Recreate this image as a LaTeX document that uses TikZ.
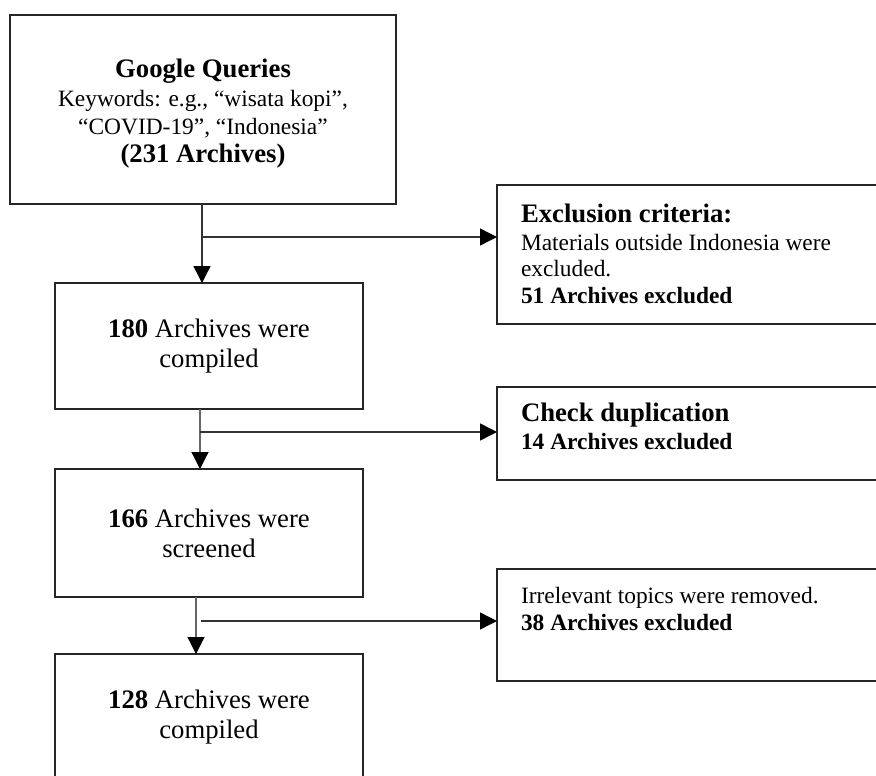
\documentclass[tikz,border=0pt]{standalone}
\usepackage{fontspec}
\setmainfont{Liberation Serif}
\usetikzlibrary{arrows.meta}
\newcommand{\headsize}{\fontsize{26.7}{30}\selectfont}
\newcommand{\bodysize}{\fontsize{23.4}{27.5}\selectfont}
\begin{document}
\begin{tikzpicture}[x=1pt,y=-1pt,
  box/.style={draw=black!85, line width=2pt, rectangle, inner sep=0pt, outer sep=0pt,
              align=center, font=\headsize},
  sidebox/.style={draw=black!85, line width=2pt, rectangle, inner sep=0pt, outer sep=0pt,
                  anchor=north west, minimum width=420pt},
  textline/.style={anchor=base west, inner sep=0pt, outer sep=0pt},
  flow/.style={draw=black!80, line width=1.4pt, -{Triangle[length=17pt,width=17pt,color=black]}},
  softflow/.style={flow, draw=black!60, line width=1.2pt}]
\useasboundingbox (0,0) rectangle (876,776);
\clip (0,0) rectangle (876,776);

% main column
\node[box, minimum width=386pt, minimum height=189pt, font=\fontsize{23.4}{28.3}\selectfont] (query) at (203,109.5)
  {\rule{0pt}{27pt}\textbf{\headsize Google Queries}\\Keywords: e.g., “wisata kopi”,\\“COVID-19”, “Indonesia”\\\textbf{\headsize (231 Archives)}};
\node[box, minimum width=308pt, minimum height=126pt] (compiled) at (209,346)
  {\textbf{180} Archives were\\compiled};
\node[box, minimum width=308pt, minimum height=128pt] (screened) at (209,533)
  {\textbf{166} Archives were\\screened};
\node[box, minimum width=308pt, minimum height=126pt] (final) at (209,717)
  {\textbf{128} Archives were\\compiled};

% exclusion boxes
\node[sidebox, minimum height=139pt] (excl) at (497,185) {};
\node[textline, font=\headsize\bfseries] (exclA) at (521,222) {Exclusion criteria:};
\node[textline, font=\bodysize] (exclB) at (521,250) {Materials outside Indonesia were};
\node[textline, font=\bodysize] (exclC) at (521,276) {excluded.};
\node[textline, font=\bodysize\bfseries] (exclD) at (521,303) {51 Archives excluded};

\node[sidebox, minimum height=93pt] (dup) at (497,387) {};
\node[textline, font=\headsize\bfseries] (dupA) at (521,421) {Check duplication};
\node[textline, font=\bodysize\bfseries] (dupB) at (521,449) {14 Archives excluded};

\node[sidebox, minimum height=112pt] (irr) at (497,569) {};
\node[textline, font=\bodysize] (irrA) at (521,603) {Irrelevant topics were removed.};
\node[textline, font=\bodysize\bfseries] (irrB) at (521,630) {38 Archives excluded};

% connectors
\coordinate (j1) at (202,237);
\draw[flow] (query.south -| j1) -- (compiled.north -| j1);
\draw[flow] (j1) -- (j1 -| excl.west);

\coordinate (j2) at (200,432);
\draw[softflow] (compiled.south -| j2) -- (screened.north -| j2);
\draw[flow] (j2) -- (j2 -| dup.west);

\coordinate (v3) at (196,621);
\coordinate (j3) at (201,621);
\draw[softflow] (screened.south -| v3) -- (final.north -| v3);
\draw[flow] (j3) -- (j3 -| irr.west);
\end{tikzpicture}
\end{document}
